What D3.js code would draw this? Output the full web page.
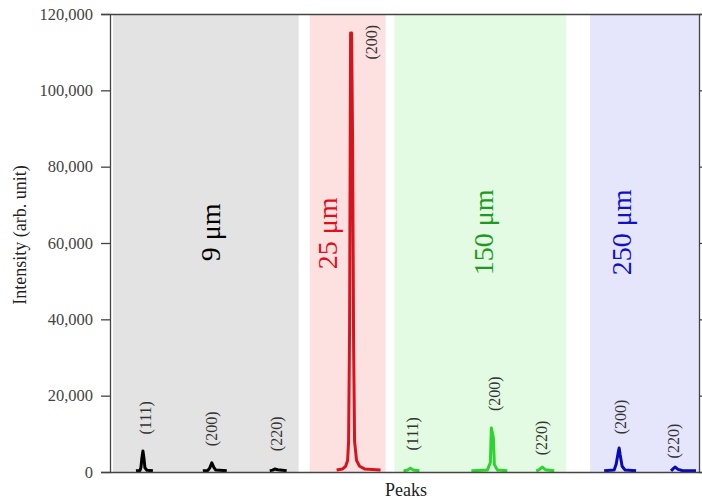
<!DOCTYPE html>
<html>
<head>
<meta charset="utf-8">
<script src="https://cdn.jsdelivr.net/npm/d3@7"></script>
<style>
  body { margin: 0; background: #fff; }
  svg text { font-family: "Liberation Serif", "DejaVu Serif", serif; }
</style>
</head>
<body>
<div id="chart"></div>
<script>
// sample groups (shaded bands along the peaks axis)
const bandNames = ['9 μm', '25 μm', '150 μm', '250 μm'];
const bandStart = [0.3, 20.0, 28.5, 48.1];
const bandEnd = [18.9, 27.6, 45.7, 59.0];
const bandLabelX = [10.1, 21.8, 37.4, 51.2];
const bandLabelY = [62800, 62500, 62800, 62800];

// peak profiles: [position, intensity]
const peaks9 = [
  [[2.6, 300], [3.0, 400], [3.1, 1200], [3.2, 3800], [3.3, 5500], [3.4, 3600], [3.5, 1100], [3.7, 450], [4.3, 300]],
  [[9.3, 300], [9.8, 400], [10.0, 1100], [10.2, 2400], [10.4, 1200], [10.6, 500], [11.7, 300]],
  [[16.0, 300], [16.3, 500], [16.5, 800], [16.8, 600], [17.7, 300]]
];
const peaks25 = [
  [[22.7, 500], [23.3, 800], [23.6, 1500], [23.8, 3000], [23.9, 8000], [24.0, 38000], [24.1, 115000],
   [24.2, 115000], [24.3, 87000], [24.4, 34000], [24.5, 8000], [24.7, 3000], [25.0, 1500], [25.5, 800], [27.1, 500]]
];
const peaks150 = [
  [[29.4, 300], [29.8, 500], [30.1, 1000], [30.4, 500], [31.0, 300]],
  [[36.2, 300], [37.8, 500], [38.1, 2500], [38.2, 11500], [38.4, 9000], [38.5, 2000], [38.8, 500], [39.8, 300]],
  [[42.7, 300], [43.0, 600], [43.3, 1300], [43.6, 600], [44.5, 300]]
];
const peaks250 = [
  [[49.5, 300], [50.5, 500], [50.7, 2000], [50.9, 5000], [51.0, 6300], [51.1, 4500], [51.3, 1500], [51.6, 500], [52.7, 300]],
  [[56.2, 300], [56.4, 800], [56.6, 1300], [56.9, 700], [57.3, 400], [58.7, 300]]
];
const peakSeries = [peaks9, peaks25, peaks150, peaks250];

// hkl labels
const hklText = ['(111)', '(200)', '(220)', '(200)', '(111)', '(200)', '(220)', '(200)', '(220)'];
const hklX = [3.6, 10.2, 16.7, 26.2, 30.3, 38.5, 43.2, 51.1, 56.4];
const hklY = [14200, 11300, 10000, 112600, 10000, 20500, 8900, 14400, 8100];

const yTicks = [0, 20000, 40000, 60000, 80000, 100000, 120000];

const bandFill = ['#e3e3e3', '#fde1e1', '#e3fbe3', '#e5e5fb'];
const bandText = ['#000000', '#e0101a', '#1e9a1e', '#1010c8'];
const lineColor = ['#000000', '#d7141e', '#2ed42e', '#0a0ab4'];

const width = 702, height = 501;
const margin = { top: 14, right: 3, bottom: 29, left: 110 };

const svg = d3.select('#chart').append('svg')
  .attr('width', width)
  .attr('height', height);

const x = d3.scaleLinear().domain([0, 59]).range([margin.left, width - margin.right]);
const y = d3.scaleLinear().domain([0, 120000]).range([height - margin.bottom, margin.top]);

// bands
svg.append('g').selectAll('rect')
  .data(bandNames)
  .join('rect')
  .attr('x', (d, i) => x(bandStart[i]))
  .attr('width', (d, i) => x(bandEnd[i]) - x(bandStart[i]))
  .attr('y', y(120000))
  .attr('height', y(0) - y(120000))
  .attr('fill', (d, i) => bandFill[i]);

// band labels
svg.append('g').selectAll('text')
  .data(bandNames)
  .join('text')
  .attr('transform', (d, i) => `translate(${x(bandLabelX[i])},${y(bandLabelY[i])}) rotate(-90)`)
  .attr('text-anchor', 'middle')
  .attr('dominant-baseline', 'central')
  .style('font-size', '28px')
  .attr('fill', (d, i) => bandText[i])
  .text(d => d);

// peaks
const line = d3.line().x(d => x(d[0])).y(d => y(d[1]));
peakSeries.forEach((series, i) => {
  svg.append('g').selectAll('path')
    .data(series)
    .join('path')
    .attr('d', line)
    .attr('fill', 'none')
    .attr('stroke', lineColor[i])
    .attr('stroke-width', 3)
    .attr('stroke-linejoin', 'round');
});

// hkl labels
svg.append('g').selectAll('text')
  .data(hklText)
  .join('text')
  .attr('transform', (d, i) => `translate(${x(hklX[i])},${y(hklY[i])}) rotate(-90)`)
  .attr('text-anchor', 'middle')
  .attr('dominant-baseline', 'central')
  .style('font-size', '16px')
  .attr('fill', '#333')
  .text(d => d);

// axes
const yAxis = svg.append('g')
  .attr('transform', `translate(${margin.left},0)`)
  .call(d3.axisLeft(y).tickValues(yTicks).tickSize(9).tickPadding(8).tickFormat(d3.format(',')));
yAxis.selectAll('text').style('font-size', '16.5px').attr('fill', '#444');

svg.append('g')
  .attr('transform', `translate(${width - margin.right},0)`)
  .call(d3.axisRight(y).tickValues(yTicks).tickSize(6).tickFormat(''));

svg.append('g')
  .attr('transform', `translate(0,${y(0)})`)
  .call(d3.axisBottom(x).tickValues([]).tickSizeOuter(0));

svg.append('g')
  .attr('transform', `translate(0,${y(120000)})`)
  .call(d3.axisTop(x).tickValues([]).tickSizeOuter(0));

svg.selectAll('.domain').attr('stroke', '#444').attr('stroke-width', 1.3);
svg.selectAll('.tick line').attr('stroke', '#444').attr('stroke-width', 1.3);

// axis titles
svg.append('text')
  .attr('transform', 'translate(26,235) rotate(-90)')
  .attr('text-anchor', 'middle')
  .style('font-size', '18px')
  .attr('fill', '#222')
  .text('Intensity (arb. unit)');

svg.append('text')
  .attr('x', 406)
  .attr('y', 496)
  .attr('text-anchor', 'middle')
  .style('font-size', '18px')
  .attr('fill', '#222')
  .text('Peaks');
</script>
</body>
</html>
